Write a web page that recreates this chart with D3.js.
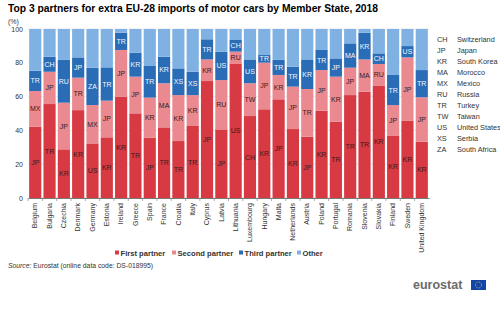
<!DOCTYPE html>
<html>
<head>
<meta charset="utf-8">
<script src="https://cdn.jsdelivr.net/npm/d3@7"></script>
<style>
  body { margin: 0; background: #fff; }
  text { font-family: "Liberation Sans", Arial, sans-serif; }
</style>
</head>
<body>
<svg id="chart"></svg>
<script>
// data (shares in %)
var countries = ["Belgium","Bulgaria","Czechia","Denmark","Germany","Estonia","Ireland","Greece","Spain","France",
  "Croatia","Italy","Cyprus","Latvia","Lithuania","Luxembourg","Hungary","Malta","Netherlands","Austria",
  "Poland","Portugal","Romania","Slovenia","Slovakia","Finland","Sweden","United Kingdom"];
var firstShare  = [42.2,55.6,28.8,52.0,32.3,35.9,60.0,50.1,35.7,41.8,33.7,42.6,69.2,40.6,79.3,48.5,52.5,58.4,40.8,36.3,51.7,45.2,60.9,62.9,66.3,36.7,45.6,33.3];
var secondShare = [21.1,19.1,27.6,19.2,22.7,21.7,27.6,21.7,23.7,26.1,27.2,18.3,12.8,29.2,7.3,19.4,27.6,14.4,25.1,28.2,24.0,26.6,16.2,19.1,13.0,18.3,37.6,26.3];
var thirdShare  = [12.0,8.9,25.3,12.0,22.1,19.7,10.2,14.2,18.7,15.7,15.8,13.8,11.9,16.8,6.9,14.1,4.5,8.9,11.8,17.5,11.9,10.8,14.4,15.8,6.3,17.8,6.7,16.1];
var firstCode  = ["JP","TR","KR","KR","US","KR","KR","TR","JP","TR","TR","TR","JP","JP","US","CH","KR","JP","KR","JP","KR","TR","TR","TR","KR","KR","KR","KR"];
var secondCode = ["MX","JP","JP","TR","MX","JP","JP","JP","KR","MA","KR","KR","KR","RU","RU","TW","JP","KR","JP","TR","JP","KR","JP","MA","RU","JP","JP","JP"];
var thirdCode  = ["TR","CH","RU","JP","ZA","TR","TR","KR","TR","KR","XS","XS","TR","US","CH","US","TR","TR","TR","KR","TR","JP","MA","KR","CH","TR","US","TR"];
var seriesNames = ["First partner","Second partner","Third partner","Other"];
var yTicks = [0,20,40,60,80,100];
var codeList = ["CH","JP","KR","MA","MX","RU","TR","TW","US","XS","ZA"];
var codeNames = ["Switzerland","Japan","South Korea","Morocco","Mexico","Russia","Turkey","Taiwan","United States","Serbia","South Africa"];

var colors = ["#d73a43","#ea8a90","#2b6cb6","#7fb1e3"];

var W = 500, H = 323;
var svg = d3.select("#chart").attr("width", W).attr("height", H);

svg.append("text").attr("x", 8).attr("y", 12)
  .style("font-size", "10.3px").style("font-weight", "bold").attr("fill", "#000")
  .text("Top 3 partners for extra EU-28 imports of motor cars by Member State, 2018");
svg.append("text").attr("x", 8).attr("y", 24)
  .style("font-size", "7px").attr("fill", "#333").text("(%)");

var x = d3.scaleBand().domain(countries).range([28, 429]).paddingInner(0.15).paddingOuter(0.08);
var y = d3.scaleLinear().domain([0, 100]).range([198, 29]);

// gridlines
svg.append("g").selectAll("line").data(yTicks.slice(1)).enter().append("line")
  .attr("x1", 28).attr("x2", 429)
  .attr("y1", function(d) { return y(d); }).attr("y2", function(d) { return y(d); })
  .attr("stroke", "#dcdcdc").attr("stroke-width", 0.6);

// stacked rows
var rows = countries.map(function(c, i) {
  return {country: c, s: [firstShare[i], secondShare[i], thirdShare[i], 100 - firstShare[i] - secondShare[i] - thirdShare[i]],
          codes: [firstCode[i], secondCode[i], thirdCode[i], ""]};
});

rows.forEach(function(r) {
  var acc = 0;
  r.s.forEach(function(v, k) {
    var y0 = acc, y1 = acc + v; acc = y1;
    svg.append("rect")
      .attr("x", x(r.country)).attr("width", x.bandwidth())
      .attr("y", y(y1)).attr("height", y(y0) - y(y1))
      .attr("fill", colors[k]);
    if (r.codes[k]) {
      svg.append("text")
        .attr("x", x(r.country) + x.bandwidth() / 2)
        .attr("y", y((y0 + y1) / 2) + 2.5)
        .attr("text-anchor", "middle")
        .style("font-size", "7px")
        .attr("fill", k == 2 ? "#f2f6fb" : "#3a1a1c")
        .text(r.codes[k]);
    }
  });
});

// y axis labels
svg.append("g").selectAll("text").data(yTicks).enter().append("text")
  .attr("x", 23).attr("y", function(d) { return y(d) + 2.5; })
  .attr("text-anchor", "end").style("font-size", "7px").attr("fill", "#333")
  .text(function(d) { return d; });

// x axis
var xAxis = svg.append("g").attr("transform", "translate(0,198)")
  .call(d3.axisBottom(x).tickSize(0).tickSizeOuter(0));
xAxis.select(".domain").attr("stroke", "#555").attr("stroke-width", 0.8);
xAxis.selectAll(".tick text")
  .attr("transform", "rotate(-90)")
  .attr("x", -5).attr("y", 0).attr("dy", "0.32em")
  .style("text-anchor", "end").style("font-size", "7px")
  .style("font-family", "'Liberation Sans', Arial, sans-serif").attr("fill", "#333");
// ticks between the bars
var step = x.step();
xAxis.selectAll("line.sep").data(countries).enter().append("line").attr("class", "sep")
  .attr("x1", function(d) { return x(d) - step * x.paddingInner() / 2; })
  .attr("x2", function(d) { return x(d) - step * x.paddingInner() / 2; })
  .attr("y1", 0).attr("y2", 3).attr("stroke", "#777").attr("stroke-width", 0.6);

// code legend on the right
var codeLeg = svg.append("g");
codeList.forEach(function(c, i) {
  codeLeg.append("text").attr("x", 437).attr("y", 42 + i * 11)
    .style("font-size", "7.3px").attr("fill", "#333").text(c);
  codeLeg.append("text").attr("x", 457).attr("y", 42 + i * 11)
    .style("font-size", "7.3px").attr("fill", "#333").text(codeNames[i]);
});

// series legend
var legX = [115, 172, 239, 297];
seriesNames.forEach(function(n, i) {
  svg.append("rect").attr("x", legX[i]).attr("y", 250.5).attr("width", 4).attr("height", 4).attr("fill", colors[i]);
  svg.append("text").attr("x", legX[i] + 5.5).attr("y", 256)
    .style("font-size", "7.6px").style("font-weight", "bold").attr("fill", "#333").text(n);
});

// source
var src = svg.append("text").attr("x", 8).attr("y", 268).style("font-size", "6.8px").attr("fill", "#333");
src.append("tspan").style("font-style", "italic").text("Source:");
src.append("tspan").text(" Eurostat (online data code: DS-018995)");

// logo
svg.append("text").attr("x", 413).attr("y", 289).style("font-size", "12.5px").style("font-weight", "bold")
  .attr("fill", "#6b6b6b").text("eurostat");
svg.append("rect").attr("x", 471).attr("y", 280).attr("width", 15).attr("height", 10).attr("fill", "#1345a8");
svg.append("circle").attr("cx", 478.5).attr("cy", 285).attr("r", 3).attr("fill", "none")
  .attr("stroke", "#f3d32b").attr("stroke-width", 0.8).attr("stroke-dasharray", "0.8,0.8");
</script>
</body>
</html>
